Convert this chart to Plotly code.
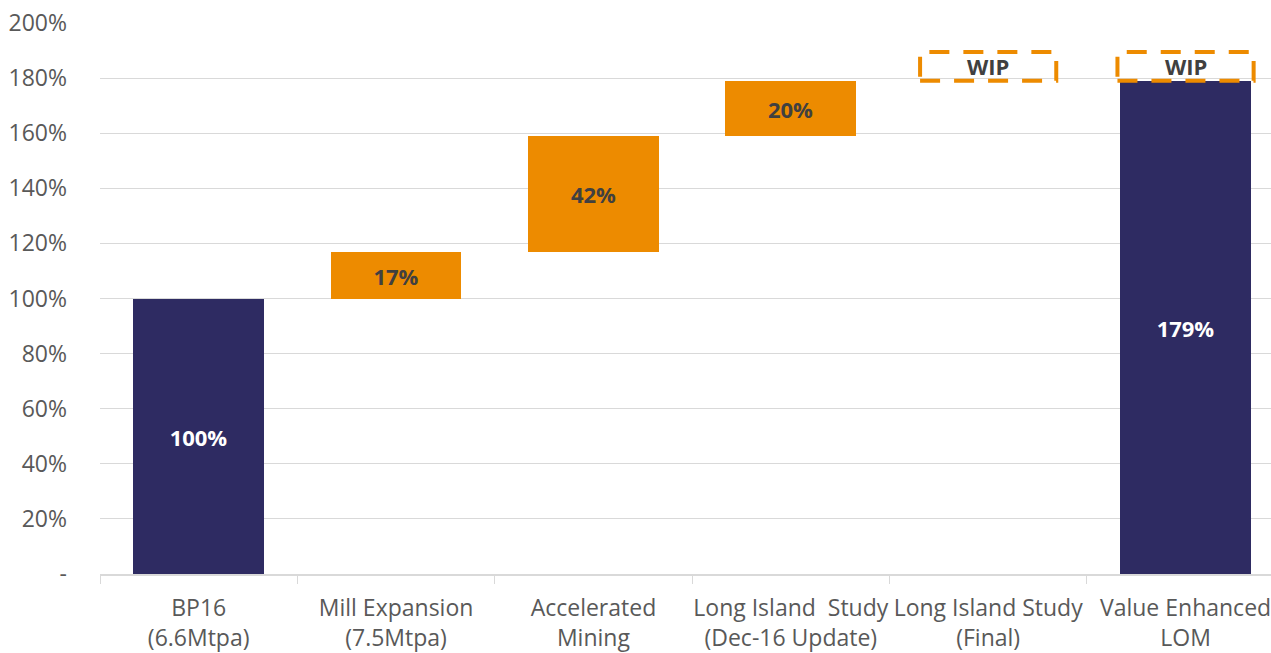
import plotly.graph_objects as go

categories = ["BP16<br>(6.6Mtpa)", "Mill Expansion<br>(7.5Mtpa)", "Accelerated<br>Mining",
              "Long Island  Study<br>(Dec-16 Update)", "Long Island Study<br>(Final)",
              "Value Enhanced<br>LOM"]
kinds = ["total", "delta", "delta", "delta", "wip", "total"]
values = [100, 17, 42, 20, None, 179]
wip_flags = [False, False, False, False, True, True]
wip_base = 179
wip_height = 10.5

y_tickvals = [0, 20, 40, 60, 80, 100, 120, 140, 160, 180, 200]
y_ticktext = ["-", "20%", "40%", "60%", "80%", "100%", "120%", "140%", "160%", "180%", "200%"]

NAVY = "#2E2B62"
ORANGE = "#ED8B00"
DARK = "#404040"
FONT = "Open Sans"

# compute bases for waterfall
bases, ys, colors, texts, tcolors = [], [], [], [], []
running = 0
for k, v in zip(kinds, values):
    if k == "total":
        bases.append(0); ys.append(v); colors.append(NAVY)
        texts.append(f"{v}%"); tcolors.append("white")
        running = v
    elif k == "delta":
        bases.append(running); ys.append(v); colors.append(ORANGE)
        texts.append(f"{v}%"); tcolors.append(DARK)
        running += v
    else:
        bases.append(0); ys.append(None); colors.append(ORANGE)
        texts.append(""); tcolors.append(DARK)

bar_w = 0.663
box_w = 0.69

fig = go.Figure()
fig.add_trace(go.Bar(
    x=categories, y=ys, base=bases, width=bar_w,
    marker=dict(color=colors, line=dict(width=0)),
    text=texts, textposition="inside", insidetextanchor="middle",
    textfont=dict(family=FONT, size=22, color=tcolors, weight="bold"),
    hoverinfo="skip", showlegend=False,
))

shapes, annotations = [], []
for i, w in enumerate(wip_flags):
    if w:
        shapes.append(dict(type="rect", xref="x", yref="y",
                           x0=i - box_w / 2, x1=i + box_w / 2,
                           y0=wip_base, y1=wip_base + wip_height,
                           line=dict(color=ORANGE, width=4, dash="20px,14px"),
                           layer="above"))
        annotations.append(dict(x=i, y=wip_base + wip_height / 2, xref="x", yref="y",
                                text="WIP", showarrow=False,
                                font=dict(family=FONT, size=22, color=DARK, weight="bold")))

fig.update_layout(
    width=1271, height=653,
    margin=dict(l=100, r=0, t=23, b=79, autoexpand=False),
    paper_bgcolor="white", plot_bgcolor="white",
    shapes=shapes, annotations=annotations,
    bargap=0,
    xaxis=dict(
        type="category", categoryorder="array", categoryarray=categories,
        range=[-0.5, 5.433], automargin=False, tickangle=0,
        showgrid=False, showline=True, linecolor="#D9D9D9", linewidth=2,
        ticks="outside", tickson="boundaries", ticklen=8, tickcolor="#D9D9D9",
        ticklabelstandoff=12,
        tickfont=dict(family=FONT, size=23, color="#595959"),
        zeroline=False,
    ),
    yaxis=dict(
        range=[0, 200], tickmode="array", tickvals=y_tickvals, ticktext=y_ticktext,
        automargin=False,
        showgrid=True, gridcolor="#D9D9D9", gridwidth=1,
        zeroline=False, showline=False, ticks="",
        ticklabelstandoff=32,
        tickfont=dict(family=FONT, size=23, color="#595959"),
    ),
)

fig.write_html("out.html")
